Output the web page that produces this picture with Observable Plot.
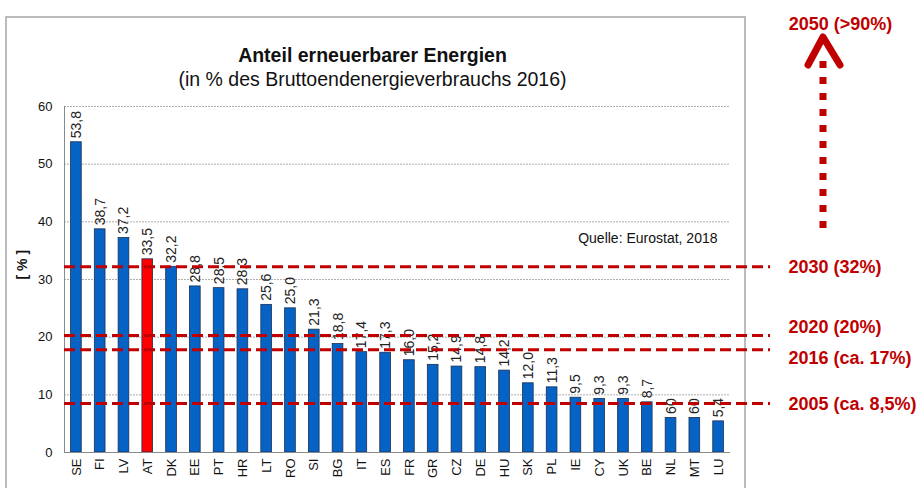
<!DOCTYPE html>
<html><head><meta charset="utf-8">
<script src="https://cdn.jsdelivr.net/npm/d3@7"></script>
<script src="https://cdn.jsdelivr.net/npm/@observablehq/plot@0.6"></script>
<style>body{margin:0;background:#fff;} svg{display:block;}</style>
</head><body><div id="chart"></div>
<script>
// ---- data ----
const countries = ["SE","FI","LV","AT","DK","EE","PT","HR","LT","RO","SI","BG","IT","ES","FR","GR","CZ","DE","HU","SK","PL","IE","CY","UK","BE","NL","MT","LU"];
const shares = [53.8,38.7,37.2,33.5,32.2,28.8,28.5,28.3,25.6,25.0,21.3,18.8,17.4,17.3,16.0,15.2,14.9,14.8,14.2,12.0,11.3,9.5,9.3,9.3,8.7,6.0,6.0,5.4];
const valueLabels = ["53,8","38,7","37,2","33,5","32,2","28,8","28,5","28,3","25,6","25,0","21,3","18,8","17,4","17,3","16,0","15,2","14,9","14,8","14,2","12,0","11,3","9,5","9,3","9,3","8,7","60","60","5,4"];
const highlightCountry = "AT";
const targetLabels = ["2030 (32%)","2020 (20%)","2016 (ca. 17%)","2005 (ca. 8,5%)"];
const targetValues = [32.2,20.3,17.8,8.5];
const longTermLabel = "2050 (>90%)";
const yTicks = [0,10,20,30,40,50,60];
const titleText = "Anteil erneuerbarer Energien";
const subtitleText = "(in % des Bruttoendenergieverbrauchs 2016)";
const sourceText = "Quelle: Eurostat, 2018";
const yLabelText = "[ % ]";

// ---- layout ----
const W = 922, H = 488, mL = 64, mR = 192, mT = 106, mB = 36;
const RED = "#c00000";
const FONT = "'Liberation Sans', Arial, sans-serif";

const bars = countries.map((c, i) => ({country: c, share: shares[i], label: valueLabels[i]}));
const targets = targetLabels.map((l, i) => ({label: l, value: targetValues[i]}));
const labelShifts = [0, -8, 8, 1];

const chart = Plot.plot({
  width: W, height: H,
  marginLeft: mL, marginRight: mR, marginTop: mT, marginBottom: mB,
  style: {fontFamily: FONT, fontSize: "13px", color: "#111", background: "transparent", overflow: "visible"},
  x: {domain: countries, paddingInner: 0.55, paddingOuter: 0.275, round: false, label: null},
  y: {domain: [0, 60], ticks: yTicks, label: null},
  marks: [
    Plot.gridY(yTicks.filter(t => t > 0), {stroke: "#9a9a9a", strokeOpacity: 1, strokeDasharray: "2,1", strokeWidth: 0.8}),
    Plot.axisY({ticks: yTicks, tickSize: 0, tickPadding: 12, fontSize: 13, label: null}),
    Plot.axisX({tickSize: 0, tickPadding: 6, tickRotate: -90, fontSize: 13, label: null}),
    Plot.barY(bars, {x: "country", y: "share", fill: d => d.country === highlightCountry ? "#ff0000" : "#0563c6", stroke: "#1c2f52", strokeWidth: 0.8}),
    Plot.frame({anchor: "left", stroke: "#8a8a8a"}),
    Plot.ruleY([0], {stroke: "#8a8a8a"}),
    Plot.text(bars, {x: "country", y: "share", text: "label", rotate: -90, textAnchor: "start", dy: -4, fontSize: 14, fill: "#222"}),
    Plot.ruleY(targets, {y: "value", stroke: RED, strokeWidth: 3, strokeDasharray: "11,5", insetRight: -40}),
    ...targets.map((t, i) => Plot.text([t], {y: "value", text: "label", frameAnchor: "right", dx: 58, dy: labelShifts[i], textAnchor: "start", fill: RED, fontWeight: "bold", fontSize: 18})),
    Plot.text([longTermLabel], {text: d => d, frameAnchor: "top-right", dx: 110, dy: -89, textAnchor: "middle", fill: RED, fontWeight: "bold", fontSize: 18}),
    Plot.text([titleText], {text: d => d, frameAnchor: "top", dx: -25, dy: -58, fontWeight: "bold", fontSize: 19.5, fill: "#111"}),
    Plot.text([subtitleText], {text: d => d, frameAnchor: "top", dx: -25, dy: -34, fontSize: 19.5, fill: "#111"}),
    Plot.text([sourceText], {text: d => d, frameAnchor: "top-right", dx: -13, dy: 127, textAnchor: "end", fontSize: 14, fill: "#111"}),
    Plot.text([yLabelText], {text: d => d, frameAnchor: "left", dx: -42, rotate: -90, fontWeight: "bold", fontSize: 14, fill: "#111"})
  ]
});

// decorations: chart frame and the 2050 arrow
const svg = d3.select(chart);
svg.insert("rect", ":first-child")
  .attr("x", mL - 58).attr("y", mT - 89).attr("width", W - mR + 15 - (mL - 58)).attr("height", H + 20)
  .attr("fill", "none").attr("stroke", "#a6a6a6").attr("stroke-width", 1.5);
const ax = W - mR + 93;
svg.append("line")
  .attr("x1", ax).attr("x2", ax).attr("y1", mT + 122).attr("y2", mT - 46)
  .attr("stroke", RED).attr("stroke-width", 7).attr("stroke-dasharray", "7,9");
svg.append("path")
  .attr("d", `M${ax - 15},${mT - 41}L${ax},${mT - 69}L${ax + 17},${mT - 41}`)
  .attr("fill", "none").attr("stroke", RED).attr("stroke-width", 7)
  .attr("stroke-linecap", "round").attr("stroke-linejoin", "round");

document.getElementById("chart").append(chart);
</script>
</body></html>
